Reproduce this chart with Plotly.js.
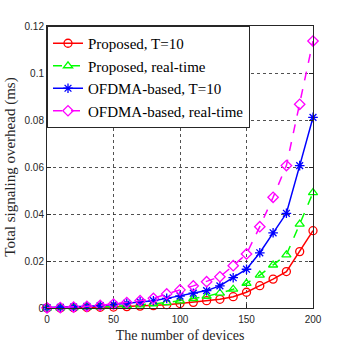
<!DOCTYPE html>
<html>
<head>
<meta charset="utf-8">
<script src="https://cdn.plot.ly/plotly-3.0.1.min.js"></script>
<style>
  html, body { margin: 0; padding: 0; background: #fff; }
  #chart { width: 346px; height: 346px; }
</style>
</head>
<body>
<div id="chart"></div>
<script>
// number of devices
var devices = [0, 10, 20, 30, 40, 50, 60, 70, 80, 90, 100, 110, 120, 130, 140, 150, 160, 170, 180, 190, 200];

// overhead values (ms)
var proposedT10 = [0, 0, 0.0001, 0.0002, 0.0003, 0.0004, 0.0006, 0.0008, 0.001, 0.0014, 0.0019,
    0.0024, 0.0031, 0.0037, 0.0048, 0.0067, 0.0095, 0.0123, 0.0155, 0.024, 0.0329];
var proposedRT = [0, 0.0001, 0.0002, 0.0003, 0.0005, 0.0007, 0.001, 0.0013, 0.0018, 0.0023, 0.003,
    0.004, 0.005, 0.0063, 0.008, 0.0105, 0.014, 0.0183, 0.0226, 0.0357, 0.0491];
var ofdmaT10 = [0.0002, 0.0003, 0.0004, 0.0007, 0.001, 0.0014, 0.002, 0.0026, 0.0031, 0.0041, 0.0051,
    0.0063, 0.0074, 0.0094, 0.0129, 0.0165, 0.0235, 0.032, 0.0403, 0.0606, 0.0811];
var ofdmaRT = [0.0001, 0.0002, 0.0004, 0.0007, 0.0011, 0.0017, 0.0023, 0.0031, 0.0041, 0.006, 0.0077,
    0.0094, 0.0112, 0.0133, 0.018, 0.023, 0.0346, 0.0471, 0.0606, 0.0867, 0.1136];

var names = ["Proposed, T=10", "Proposed, real-time", "OFDMA-based, T=10", "OFDMA-based, real-time"];

function makeTrace(y, name, color, dash, symbol) {
    return {
        x: devices,
        y: y,
        name: name,
        type: "scatter",
        mode: "lines+markers",
        cliponaxis: false,
        line: {color: color, width: 1.5, dash: dash},
        marker: {symbol: symbol, size: 8, color: color, line: {color: color, width: 1.3}}
    };
}

var data = [
    makeTrace(proposedT10, names[0], "#ff0000", "solid", "circle-open"),
    makeTrace(proposedRT, names[1], "#00ff00", "dash", "triangle-up-open"),
    makeTrace(ofdmaT10, names[2], "#0000ff", "solid", "asterisk-open"),
    makeTrace(ofdmaRT, names[3], "#ff00ff", "dash", "diamond-open")
];

var axisCommon = {
    showline: true,
    mirror: "ticks",
    linecolor: "#262626",
    linewidth: 1,
    ticks: "inside",
    ticklen: 4,
    tickcolor: "#262626",
    showgrid: true,
    gridcolor: "#262626",
    griddash: "dot",
    gridwidth: 0.8,
    zeroline: false,
    tickfont: {family: "Liberation Sans, Arial, sans-serif", size: 10, color: "#262626"}
};

var layout = {
    width: 346,
    height: 346,
    margin: {l: 47, r: 33, t: 26, b: 38},
    paper_bgcolor: "#fff",
    plot_bgcolor: "#fff",
    showlegend: true,
    legend: {
        x: 0, y: 1, xanchor: "left", yanchor: "top",
        bgcolor: "#fff",
        bordercolor: "#262626",
        borderwidth: 1,
        tracegroupgap: 0,
        itemwidth: 30,
        font: {family: "Liberation Serif, Times New Roman, serif", size: 15, color: "#000"}
    },
    xaxis: Object.assign({}, axisCommon, {
        range: [0, 200],
        tickvals: [0, 50, 100, 150, 200],
        ticklabelstandoff: 2,
        title: {text: "The number of devices", standoff: 6,
            font: {family: "Liberation Serif, Times New Roman, serif", size: 14, color: "#262626"}}
    }),
    yaxis: Object.assign({}, axisCommon, {
        range: [0, 0.12],
        tickvals: [0, 0.02, 0.04, 0.06, 0.08, 0.1, 0.12],
        ticktext: ["0", "0.02", "0.04", "0.06", "0.08", "0.1", "0.12"],
        title: {text: "Total signaling overhead (ms)", standoff: 5,
            font: {family: "Liberation Serif, Times New Roman, serif", size: 15, color: "#262626"}}
    })
};

Plotly.newPlot("chart", data, layout, {displayModeBar: false, staticPlot: true});
</script>
</body>
</html>
